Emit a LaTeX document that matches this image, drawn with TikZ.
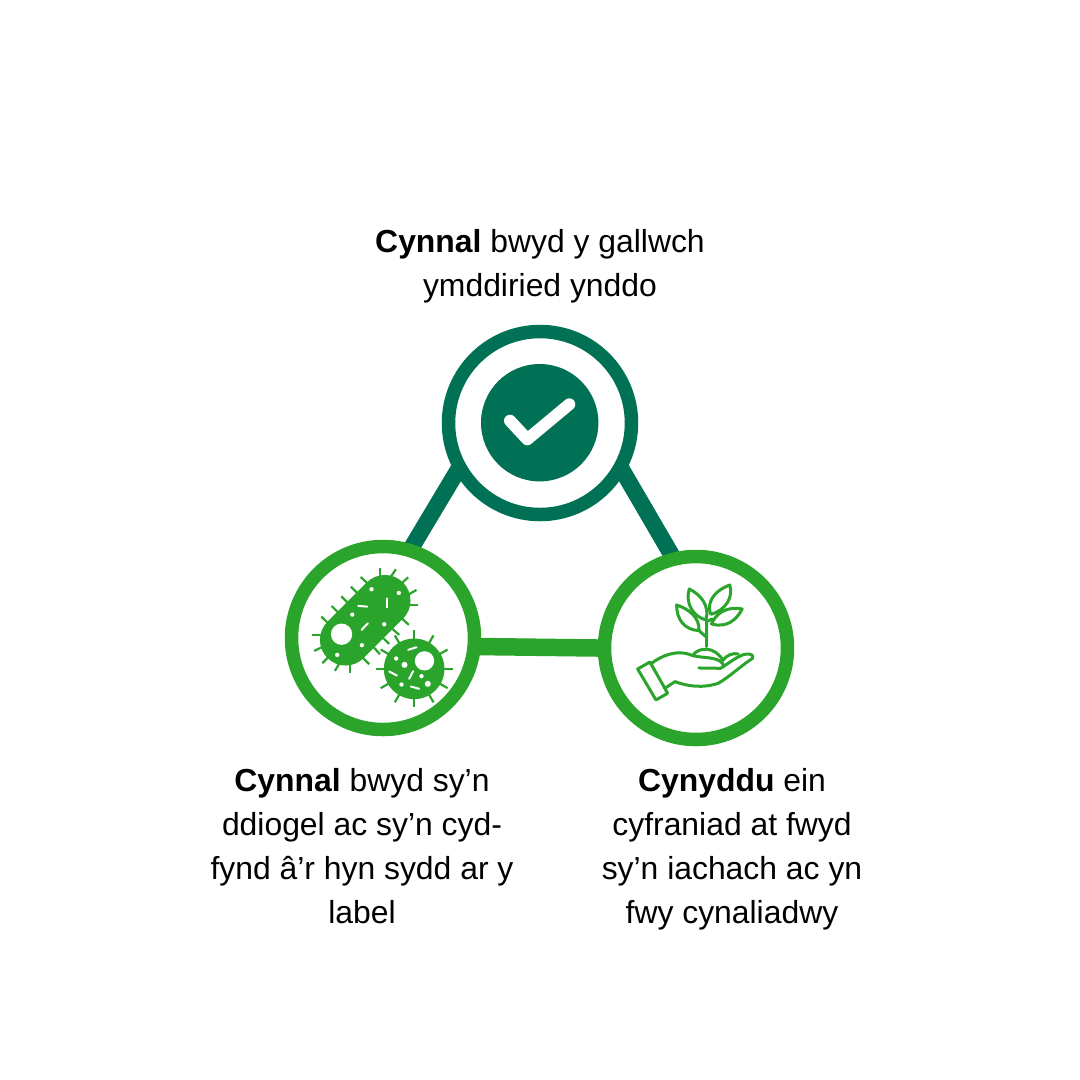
\documentclass[tikz,border=0pt]{standalone}
\usepackage{fontspec}
\setmainfont{Liberation Sans}
\usetikzlibrary{backgrounds}
\definecolor{darkgreen}{RGB}{0,113,84}
\definecolor{lightgreen}{RGB}{43,164,44}
\tikzset{
  ring/.style={circle,draw=#1,fill=white,line width=1.35mm,minimum size=18.3mm,inner sep=0pt},
  caption/.style={align=center,inner sep=0pt,font=\fontsize{9.07}{12.52}\selectfont},
  zoomed/.style={x=0.0333mm,y=-0.0333mm},
  spike/.style={lightgreen,line width=0.22mm},
  fleck/.style={white,line width=0.2mm,line cap=round},
  outline/.style={lightgreen,line width=0.3mm,line join=round,line cap=round}
}
\begin{document}
\begin{tikzpicture}[x=0.1mm,y=-0.1mm]
\useasboundingbox (0,0) rectangle (1080,1080);
\node [ring=darkgreen] (trust) at (540,423) {};
\node [ring=lightgreen] (safe) at (383,638) {};
\node [ring=lightgreen] (grow) at (696,648) {};
\begin{scope}[on background layer]
\draw [darkgreen,line width=1.65mm,shorten <=-1mm,shorten >=-1mm] (trust.211.4) -- (safe.72.7);
\draw [darkgreen,line width=1.65mm,shorten <=-1mm,shorten >=-1mm] (trust.-31.9) -- (grow.105.5);
\draw [lightgreen,line width=1.75mm,shorten <=-1mm,shorten >=-1mm] (safe.-5.2) -- (grow.180);
\end{scope}
% tick
\fill [darkgreen] (539.7,422.7) circle (58.7);
\draw [white,line width=1.2mm,line cap=round,line join=round] (510,420.7) -- (527.3,439.3) -- (569.3,404.3);
% bacteria
\begin{scope}[shift={(280,535)},zoomed]
\foreach \xa/\ya/\xb/\yb in {300/98/300/130,348/103/330/130,385/127/360/150,410/165/380/182,415/211/385/211,
  387/270/360/245,358/300/332/277,328/327/304/304,300/358/277/332,268/388/245/365,210/415/210/385,165/408/182/380,
  127/385/150/362,103/348/130/335,97/301/130/301,124/245/150/270,155/213/180/238,184/184/208/208,213/155/238/180,242/126/268/150}
  \draw [spike] (\xa,\ya) -- (\xb,\yb);
\draw [lightgreen,line width=5.13mm,line cap=round] (197,315) -- (315,197);
\fill [white] (185,298) circle (32);
\foreach \x/\y in {275/163,357/174,217/239,313/268,246/331,172/360}
  \fill [white] (\x,\y) circle (6.5);
\draw [fleck] (235,213) -- (262,215);
\draw [fleck] (322,190) -- (322,217);
\draw [fleck] (245,285) -- (264,265);
\fill [lightgreen] (403,402) circle (91);
\foreach \a in {0,30,...,330}
  \draw [spike] ([shift={(403,402)}]\a:88) -- ([shift={(403,402)}]\a:116);
\fill [white] (434,378) circle (29);
\fill [white] (374,390) circle (9);
\fill [white] (444,447) circle (9);
\foreach \x/\y in {349/371,425/424,365/449}
  \fill [white] (\x,\y) circle (6.5);
\draw [fleck] (385,345) -- (410,337);
\draw [fleck] (328,410) -- (351,422);
\draw [fleck] (388,432) -- (400,409);
\draw [fleck] (393,455) -- (418,462);
\end{scope}
% plant
\begin{scope}[shift={(630,580)},zoomed]
\draw [outline] (178,27) .. controls (165,70) and (190,110) .. (228,120) .. controls (240,80) and (215,45) .. (178,27) -- cycle;
\draw [outline] (300,15) .. controls (245,35) and (230,75) .. (243,103) .. controls (290,90) and (310,50) .. (300,15) -- cycle;
\draw [outline] (337,87) .. controls (290,78) and (258,100) .. (245,132) .. controls (290,145) and (320,120) .. (337,87) -- cycle;
\draw [outline] (140,75) .. controls (140,120) and (165,150) .. (207,152) .. controls (210,115) and (180,88) .. (140,75) -- cycle;
\draw [outline] (230,200) -- (230,125) -- (247,117);
\draw [outline] (230,172) -- (205,150);
\end{scope}
% hand
\begin{scope}[shift={(630,640)},zoomed]
\draw [outline] (23,87) -- (60,66) -- (113,160) -- (78,180) -- cycle;
\draw [outline] (188,47) .. controls (205,20) and (255,18) .. (278,60);
\draw [outline] (62,72) .. controls (90,50) and (140,25) .. (188,47) .. controls (225,55) and (260,50) .. (278,70) .. controls (282,78) and (280,85) .. (272,85) -- (207,84);
\draw [outline] (278,62) .. controls (290,45) and (310,38) .. (325,42);
\draw [outline] (280,80) .. controls (310,60) and (335,40) .. (358,42) .. controls (368,44) and (372,50) .. (368,55) .. controls (330,80) and (300,110) .. (265,130) .. controls (220,145) and (175,140) .. (135,125) -- (105,145);
\end{scope}
\node [caption] (trusttext) at (540,266) {\textbf{Cynnal} bwyd y gallwch\\ymddiried ynddo};
\node [caption] (safetext) at (362,846) {\textbf{Cynnal} bwyd sy’n\\ddiogel ac sy’n cyd-\\fynd â’r hyn sydd ar y\\label};
\node [caption] (growtext) at (732,849) {\textbf{Cynyddu} ein\\cyfraniad at fwyd\\sy’n iachach ac yn\\fwy cynaliadwy};
\end{tikzpicture}
\end{document}
